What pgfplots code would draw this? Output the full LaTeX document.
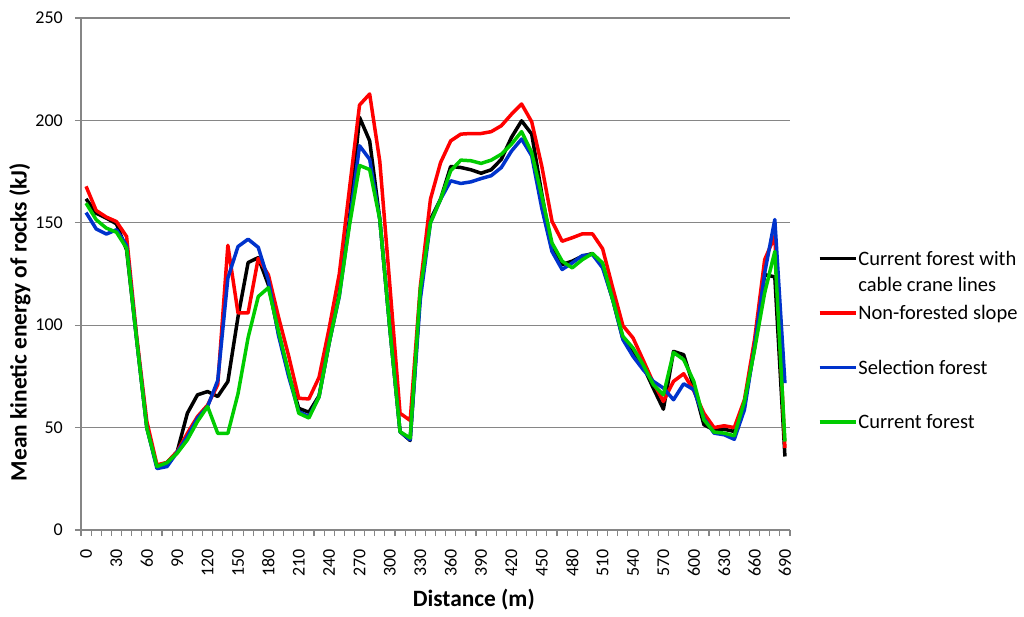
\documentclass[border=0pt]{standalone}
\usepackage{pgfplots}
\pgfplotsset{compat=1.18}
\usepackage{pgfplotstable}
\usepackage{fontspec}
\setmainfont{Carlito}
\definecolor{gridgray}{RGB}{134,134,134}
\definecolor{sred}{RGB}{255,0,0}
\definecolor{sblue}{RGB}{0,51,204}
\definecolor{sgreen}{RGB}{0,204,0}

\pgfplotstableread{
d black red blue green
0 161.7 167.8 155.0 159.6
10 154.7 156.0 147.0 151.5
20 152.3 152.8 144.5 147.4
30 149.5 150.6 146.6 145.4
40 136.8 143.3 139.0 137.6
50 92.8 94.5 92.8 92.8
60 50.0 53.0 50.0 49.7
70 31.0 31.8 30.0 31.0
80 33.0 33.0 31.0 32.9
90 38.3 38.3 38.0 37.5
100 57.0 47.2 45.6 44.0
110 66.0 55.4 54.6 53.0
120 67.6 61.0 60.3 60.3
130 65.2 71.0 73.0 47.2
140 72.5 139.0 123.0 47.2
150 104.0 106.0 138.4 66.5
160 130.6 106.0 142.0 94.0
170 133.0 132.7 138.0 114.0
180 119.7 124.6 122.0 118.3
190 96.0 104.0 95.0 97.0
200 76.0 85.0 75.0 77.0
210 59.4 64.3 57.8 57.0
220 57.5 64.0 55.4 54.7
230 65.5 74.5 65.0 65.0
240 91.4 98.5 91.4 91.4
250 115.5 125.0 114.0 114.5
260 151.7 166.4 150.0 148.5
270 201.5 207.5 187.6 178.0
280 190.0 212.9 181.0 176.0
290 151.7 180.0 151.7 151.7
300 98.0 119.0 98.0 98.0
310 48.0 57.0 48.0 48.0
320 43.7 53.5 44.0 44.9
330 116.0 119.0 112.6 117.5
340 151.7 161.5 150.0 150.0
350 161.5 179.4 161.5 161.5
360 177.5 190.0 170.5 175.4
370 177.0 193.3 169.2 180.6
380 175.9 193.6 170.0 180.3
390 174.2 193.6 171.6 179.0
400 175.9 194.5 173.0 180.6
410 181.0 197.4 177.0 183.5
420 191.7 203.0 185.0 188.4
430 199.8 208.0 190.9 194.5
440 193.3 199.3 182.7 184.3
450 164.0 177.5 157.0 163.0
460 137.0 150.8 136.0 140.2
470 129.6 141.0 127.2 131.3
480 131.3 142.7 130.4 128.0
490 133.7 144.6 134.0 132.0
500 135.0 144.6 134.5 135.0
510 129.0 137.3 128.0 130.4
520 112.5 118.2 112.5 112.5
530 93.5 99.8 93.0 94.6
540 87.0 93.8 84.8 88.9
550 80.0 83.0 78.3 80.7
560 69.3 72.0 72.6 71.0
570 59.0 62.8 69.3 66.0
580 87.2 72.6 63.6 86.7
590 85.6 76.3 71.4 83.2
600 70.0 68.0 68.5 72.6
610 51.4 57.0 54.6 53.8
620 48.9 50.0 47.3 47.8
630 49.2 50.9 46.5 47.3
640 48.1 50.0 44.3 46.0
650 62.0 63.6 58.7 62.8
660 89.0 93.0 89.7 88.0
670 124.7 132.0 125.5 115.8
680 123.6 143.5 151.6 136.0
690 35.9 40.0 71.7 43.2
}\datatable

\begin{document}
\begin{tikzpicture}
\useasboundingbox (0,0) rectangle (1024pt,616pt);
\begin{axis}[
  at={(81pt,86pt)}, anchor=south west,
  scale only axis, width=709pt, height=512pt,
  xmin=-5, xmax=695, ymin=0, ymax=250,
  axis x line=bottom, axis y line=left,
  axis line style={draw=gridgray, line width=1.3pt, -},
  xtick={0,30,...,690},
  minor xtick={-5,5,...,695},
  ytick={0,50,...,250},
  tick align=outside,
  major tick length=6pt, minor tick length=6pt,
  major x tick style={draw=none},
  tick style={draw=gridgray, line width=1.1pt},
  ymajorgrids, grid style={draw=gridgray, line width=1.3pt},
  /pgf/number format/assume math mode=true,
  tick label style={font=\fontsize{18}{21}\selectfont, text=black},
  xticklabel style={rotate=90, anchor=east, inner sep=0pt},
  xticklabel shift={13pt},
  yticklabel style={anchor=east, inner sep=0pt, xshift=-12pt},
  xlabel={Distance (m)},
  ylabel={Mean kinetic energy of rocks (kJ)},
  label style={font=\bfseries\fontsize{23.4}{28}\selectfont},
  xlabel style={at={(rel axis cs:0.554,0)}, anchor=center, yshift=-70pt},
  ylabel style={at={(rel axis cs:-0.086,0.406)}, anchor=center, rotate=0},
  legend cell align=left,
  legend style={at={(rel axis cs:1.039,0.545)}, anchor=north west, draw=none,
    fill=none, inner sep=0pt, font=\fontsize{20.5}{26}\selectfont,
    nodes={inner sep=0pt, text height=14pt, text depth=40.5pt},
    column sep=1pt},
  legend image code/.code={\draw[#1, line width=3.5pt] (0pt,20pt) -- (36pt,20pt);},
  every axis plot/.append style={line width=3.5pt, line join=round},
]
\addplot[black] table[x=d, y=black] {\datatable};
\addlegendentry{\vtop{\hbox{Current forest with}\hbox{cable crane lines}}}
\addplot[sred] table[x=d, y=red] {\datatable};
\addlegendentry{Non-forested slope}
\addplot[sblue] table[x=d, y=blue] {\datatable};
\addlegendentry{Selection forest}
\addplot[sgreen] table[x=d, y=green] {\datatable};
\addlegendentry{Current forest}
\end{axis}
\end{tikzpicture}
\end{document}
